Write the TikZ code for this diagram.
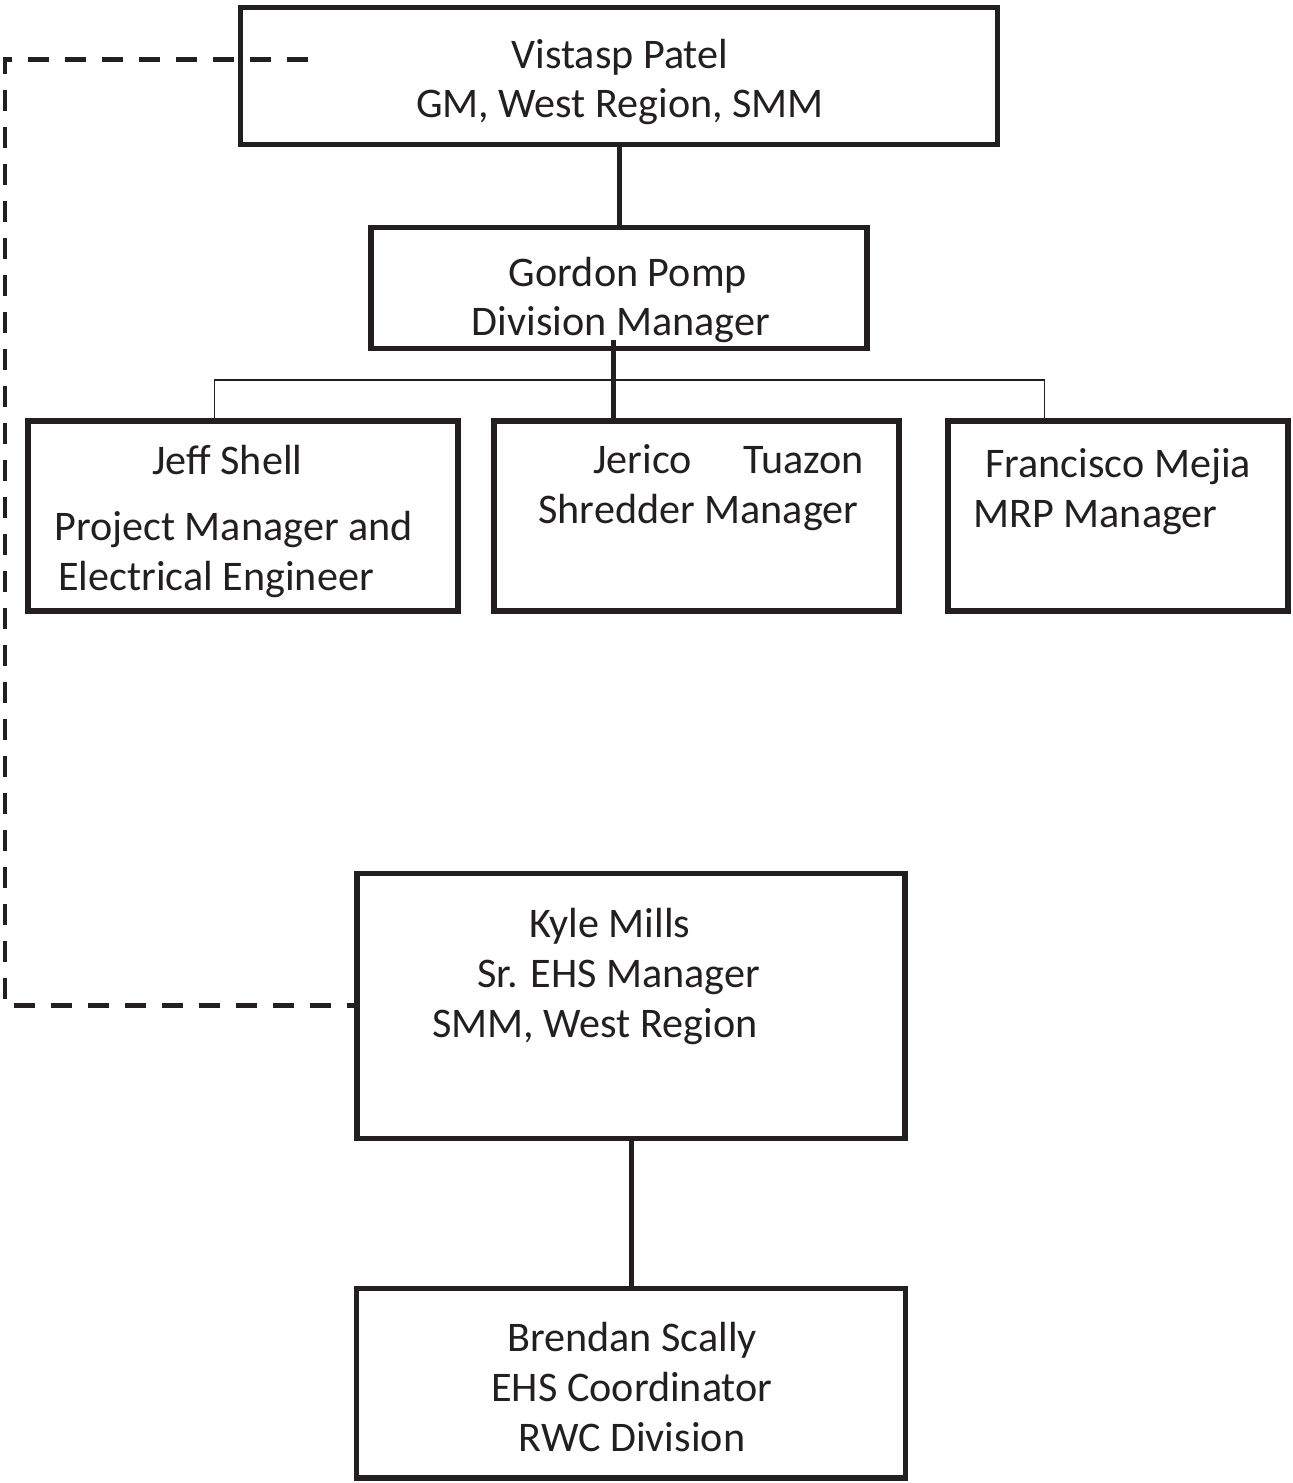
\documentclass[tikz,border=0pt]{standalone}
\usepackage{fontspec}
\setmainfont{Carlito}
\usetikzlibrary{positioning}
\definecolor{ink}{HTML}{231F20}
\tikzstyle{block} = [draw=ink, rectangle, line width=0.11cm, inner sep=0pt]
\tikzstyle{person} = [text=ink, inner sep=0pt, font=\fontsize{24}{28.3}\selectfont]
\tikzstyle{link} = [draw=ink, line width=0.1cm]
\tikzstyle{branch} = [draw=ink, line width=0.03cm]
\tikzstyle{dotline} = [draw=ink, line width=0.1cm, dash pattern=on 0.42cm off 0.32cm]

\begin{document}
\begin{tikzpicture}[x=0.02cm, y=-0.02cm, node distance=2cm]
        \useasboundingbox (0,0) rectangle (1293,1483);

        \node[
            block,
            minimum width=15.14cm, minimum height=2.74cm
        ](patel) at (619,76){};

        \node[
            block,
            minimum width=9.92cm, minimum height=2.42cm,
            below of=patel, node distance=4.24cm
        ](pomp){};

        \node[
            block,
            minimum width=8.1cm, minimum height=3.8cm,
            below of=pomp, node distance=4.56cm, xshift=1.55cm
        ](tuazon){};

        \node[
            block,
            minimum width=8.6cm, minimum height=3.8cm,
            left of=tuazon, node distance=9.07cm
        ](shell){};

        \node[
            block,
            minimum width=6.8cm, minimum height=3.8cm,
            right of=tuazon, node distance=8.43cm
        ](mejia){};

        \node[
            block,
            minimum width=10.96cm, minimum height=5.3cm,
            below of=tuazon, node distance=9.8cm, xshift=-1.31cm
        ](mills){};

        \node[
            block,
            minimum width=10.98cm, minimum height=3.8cm,
            below of=mills, node distance=7.55cm
        ](scally){};

        % names and titles (placed on the last baseline)
        \node[person, align=center, anchor=base] (pateltxt) at (620,118)
            {Vistasp Patel\\GM, West Region, SMM};
        \node[person, align=center, anchor=base] (pomptxt) at (621,336)
            {\hspace*{0.28cm}Gordon Pomp\\Division Manager};
        \node[person, align=left, anchor=base west] (shelltxt) at (54,590)
            {\hspace*{1.96cm}Jeff Shell\\[0.32cm]Project Manager and\\\hspace*{0.08cm}Electrical Engineer};
        \node[person, align=left, anchor=base west] (tuazontxt) at (538,523)
            {\hspace*{1.1cm}Jerico\hspace{0.84cm} Tuazon\\Shredder Manager};
        \node[person, align=left, anchor=base west] (mejiatxt) at (973,527)
            {\hspace*{0.24cm}Francisco Mejia\\MRP Manager};
        \node[person, align=left, anchor=base west] (millstxt) at (432,1037)
            {\hspace*{1.94cm}Kyle Mills\\\hspace*{0.9cm}Sr. EHS Manager\\SMM, West Region};
        \node[person, align=center, anchor=base] (scallytxt) at (632,1451)
            {Brendan Scally\\EHS Coordinator\\RWC Division};

        % reporting lines
        \coordinate (hub) at (613,340);
        \coordinate (bus) at (613,380);
        \draw[link] (patel) -- (pomp);
        \draw[link] (hub) -- (hub |- tuazon.north);
        \draw[branch] ([xshift=-0.57cm]shell.north) |- (bus) -| ([xshift=-1.47cm]mejia.north);
        \draw[link] (mills) -- (scally);

        % dotted line report
        \coordinate (dashstart) at (308,60);
        \coordinate (dashcorner) at (5,60);
        \draw[dotline] (dashstart) -- (dashcorner) |- (mills.west);
    \end{tikzpicture}
\end{document}
